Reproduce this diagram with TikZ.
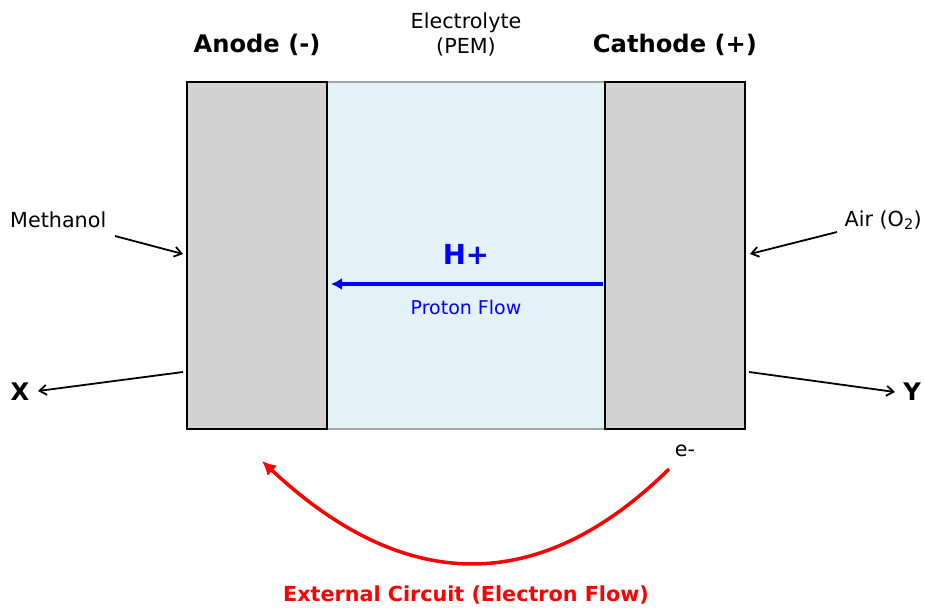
\documentclass[tikz,border=0pt]{standalone}
\usepackage{fontspec}
\setmainfont{DejaVu Sans}
\usetikzlibrary{arrows.meta}
\definecolor{pemblue}{RGB}{228,241,247}
\definecolor{electrode}{RGB}{211,211,211}
\definecolor{pemedge}{RGB}{165,165,165}
\begin{document}
\begin{tikzpicture}[x=1pt,y=-1pt,
    plate/.style={draw=black,line width=1.5pt,fill=electrode,minimum width=140pt,minimum height=347pt,inner sep=0pt},
    lbl/.style={inner sep=0pt,font=\fontsize{20.7}{25}\selectfont},
    head/.style={inner sep=0pt,font=\bfseries\fontsize{24.2}{29}\selectfont},
    feed/.style={-{Straight Barb[length=7pt,width=10pt,line width=1.8pt]},line width=1.8pt}]
  \useasboundingbox (0,0) rectangle (925,608);
  % cell
  \node[draw=pemedge,line width=1.5pt,fill=pemblue,minimum width=278pt,minimum height=347pt,inner sep=0pt] (pem) at (466,255.5) {};
  \node[plate] (anode) at (257,255.5) {};
  \node[plate] (cathode) at (675,255.5) {};
  \node[head] (anodelbl) at (257,45) {Anode (-)};
  \node[head] (cathodelbl) at (675,45) {Cathode (+)};
  \node[lbl,align=center] (pemlbl) at (466,34) {Electrolyte\\(PEM)};
  % feeds and products
  \node[lbl,anchor=west] (methanol) at (10,220) {Methanol};
  \node[lbl,anchor=east] (air) at (922,220) {Air (O\textsubscript{2})};
  \node[head] (xout) at (20,392) {X};
  \node[head] (yout) at (912,392) {Y};
  \coordinate (methtail) at (115,236);
  \coordinate (methin) at (183,254);
  \coordinate (airtail) at (837,232);
  \coordinate (airin) at (750,254);
  \coordinate (xtail) at (183,372);
  \coordinate (xhead) at (38,391);
  \coordinate (ytail) at (749,372);
  \coordinate (yhead) at (895,392);
  \draw[feed] (methtail) -- (methin);
  \draw[feed] (airtail) -- (airin);
  \draw[feed] (xtail) -- (xhead);
  \draw[feed] (ytail) -- (yhead);
  % protons
  \node[head,text=blue,font=\bfseries\fontsize{27.6}{32}\selectfont] (hplus) at (466,254) {H+};
  \coordinate (hstart) at (603,284);
  \coordinate (hend) at (331,284);
  \draw[blue,line width=4pt,-{Latex[length=11pt,width=12pt]}] (hstart) -- (hend);
  \node[lbl,text=blue,font=\fontsize{19}{23}\selectfont] (pflow) at (466,307) {Proton Flow};
  % external circuit
  \node[lbl] (eminus) at (685,451) {e-};
  \coordinate (estart) at (669,469);
  \coordinate (eend) at (262,461);
  \draw[red,line width=3.5pt,-{Latex[length=14pt,width=14pt]}] (estart) .. controls (539,597) and (404,594) .. (eend);
  \node[head,text=red,font=\bfseries\fontsize{20.7}{25}\selectfont] (circuit) at (466,595) {External Circuit (Electron Flow)};
\end{tikzpicture}
\end{document}
